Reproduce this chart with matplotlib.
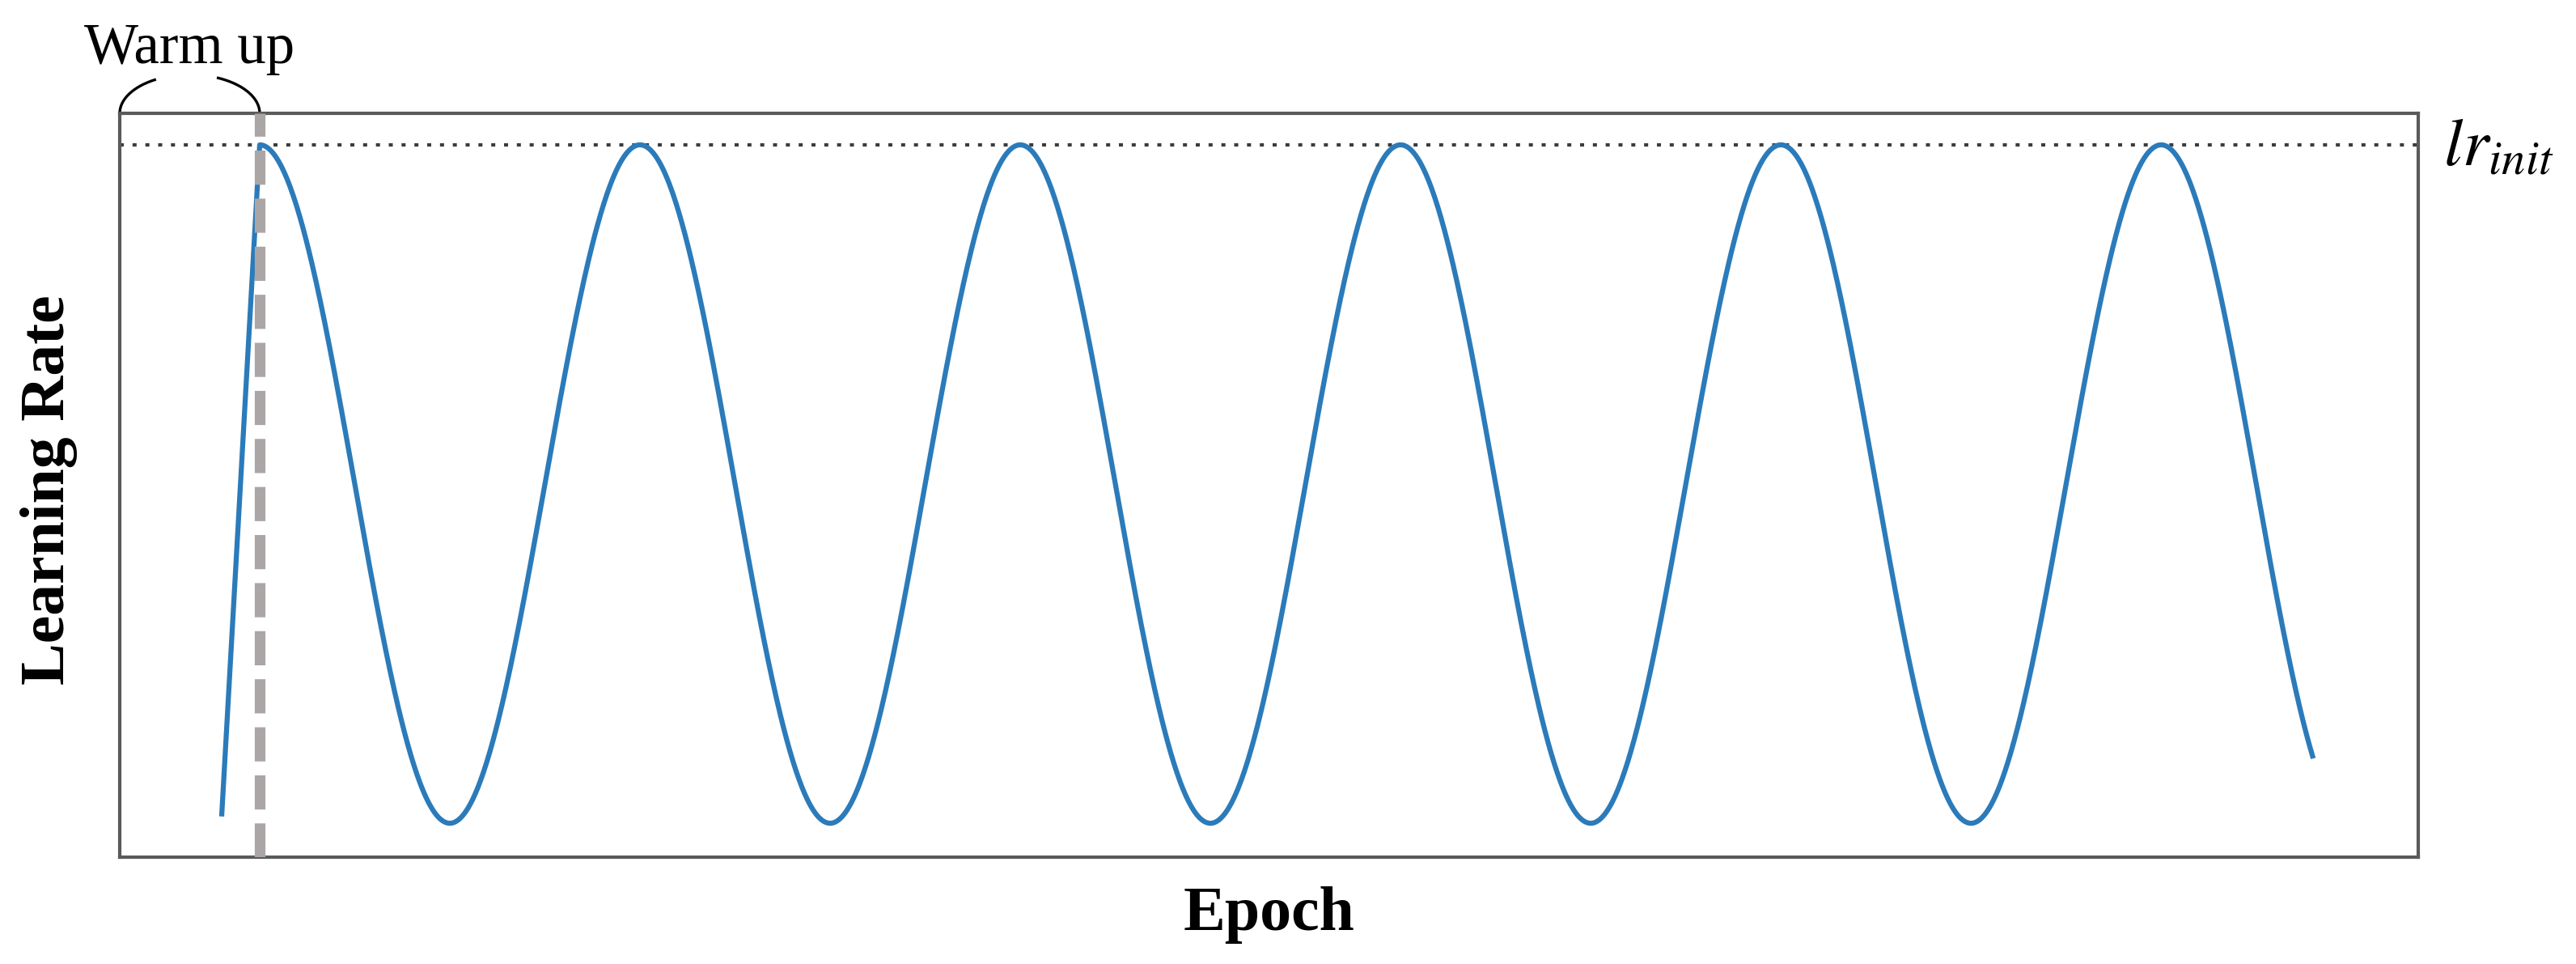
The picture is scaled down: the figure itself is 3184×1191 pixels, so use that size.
"""Cosine learning-rate schedule with a short linear warm-up (schematic)."""
import matplotlib
matplotlib.use("Agg")
import matplotlib.pyplot as plt
import numpy as np

# schedule (epochs / relative learning rate)
LR_INIT = 1.0
LR_MIN = 0.0
WARMUP_START_LR = 0.01
WARMUP_EPOCHS = 5
CYCLE_EPOCHS = 50
TOTAL_EPOCHS = 275
X_LIMITS = [-13.4, 288.8]
Y_LIMITS = [-0.050, 1.0465]

BLUE = "#2b7bba"
WARM_GRAY = "#aba6a6"
SPINE = "#5a5a5a"

plt.rcParams["font.family"] = ["Liberation Serif", "DejaVu Serif"]
plt.rcParams["mathtext.fontset"] = "stix"

# warm-up: straight ramp, then a smooth cosine oscillation
warm_x = np.array([0, WARMUP_EPOCHS])
warm_y = np.array([WARMUP_START_LR, LR_INIT])
cos_x = np.linspace(WARMUP_EPOCHS, TOTAL_EPOCHS, 2000)
cos_y = LR_MIN + (LR_INIT - LR_MIN) * (1 + np.cos(2 * np.pi * (cos_x - WARMUP_EPOCHS) / CYCLE_EPOCHS)) / 2

fig = plt.figure(figsize=(31.84, 11.91), dpi=100)
ax = fig.add_axes([148 / 3184, 1 - 1059 / 1191, (2989 - 148) / 3184, (1059 - 140) / 1191])

ax.plot(np.r_[warm_x, cos_x], np.r_[warm_y, cos_y], color=BLUE, lw=4.5,
        solid_capstyle="butt", zorder=3)
ax.axhline(LR_INIT, color="#3c3c3c", lw=3.0, linestyle=(0, (1.2, 2.6)), zorder=2)
ax.axvline(WARMUP_EPOCHS, color=WARM_GRAY, lw=9.5, linestyle=(0, (3.2, 1.3)),
           dash_capstyle="butt", zorder=4)

ax.set_xlim(X_LIMITS)
ax.set_ylim(Y_LIMITS)
ax.set_xticks([])
ax.set_yticks([])
for sp in ax.spines.values():
    sp.set_color(SPINE)
    sp.set_linewidth(3.0)

# warm-up bracket: two arcs of one ellipse over the warm-up span
trans = ax.get_xaxis_transform()
cx = (X_LIMITS[0] + WARMUP_EPOCHS) / 2
half_w = (WARMUP_EPOCHS - X_LIMITS[0]) / 2
half_h = 0.052
for t0, t1 in [(120, 180), (0, 66)]:
    t = np.radians(np.linspace(t0, t1, 60))
    ax.plot(cx + half_w * np.cos(t), 1 + half_h * np.sin(t), color="black",
            lw=2.4, transform=trans, clip_on=False)
ax.text(cx, 1.0675, "Warm up", transform=trans, ha="center", va="baseline",
        fontsize=51)

ax.text(1.011, LR_INIT - 0.007, r"$lr_{init}$", transform=ax.get_yaxis_transform(),
        ha="left", va="center", fontsize=60)

fig.text(61 / 3184, 1 - 605 / 1191, "Learning Rate", rotation=90, ha="center",
         va="center", fontsize=56, fontweight="bold")
fig.text(1568 / 3184, 1 - 1149 / 1191, "Epoch", ha="center", va="baseline",
         fontsize=56, fontweight="bold")

fig.savefig("out.png", dpi=100, facecolor="white")
